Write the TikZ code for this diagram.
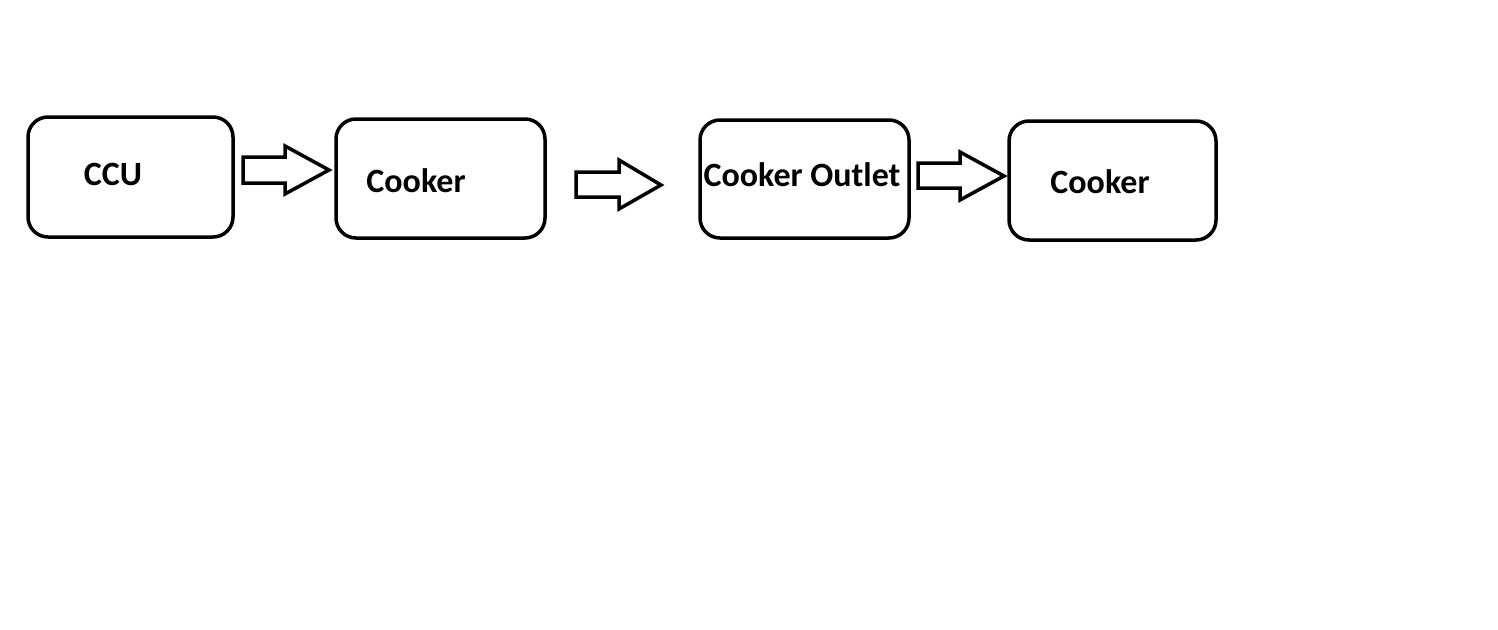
\documentclass[tikz,border=0pt]{standalone}
\usepackage{fontspec}
\setmainfont{Carlito}
\begin{document}
\begin{tikzpicture}[x=1pt,y=-1pt,
  box/.style={draw, line width=3.5pt, rounded corners=20pt},
  lbl/.style={font=\bfseries\fontsize{34}{38}\selectfont, inner sep=0pt, anchor=center},
  blockarrow/.style={draw, line width=3.5pt, line join=miter}]
\useasboundingbox (0,0) rectangle (1498,629);
% boxes
\draw[box] (28,117) rectangle (233,237);
\draw[box] (336,119) rectangle (545,238);
\draw[box] (700,120) rectangle (909,238);
\draw[box] (1009,121) rectangle (1216,240);
\node[lbl] (ccu) at (113,174) {CCU};
\node[lbl] (cooker1) at (416,181) {Cooker};
\node[lbl] (outlet) at (802,175) {Cooker Outlet};
\node[lbl] (cooker2) at (1100,182) {Cooker};
% block arrows
\draw[blockarrow] (243,157) -- (285,157) -- (285,146) -- (329,170) -- (285,194) -- (285,183) -- (243,183) -- cycle;
\draw[blockarrow] (576,172) -- (619,172) -- (619,160) -- (661,185) -- (619,209) -- (619,197) -- (576,197) -- cycle;
\draw[blockarrow] (918,163) -- (960,163) -- (960,152) -- (1004,176) -- (960,200) -- (960,188) -- (918,188) -- cycle;
\end{tikzpicture}
\end{document}
